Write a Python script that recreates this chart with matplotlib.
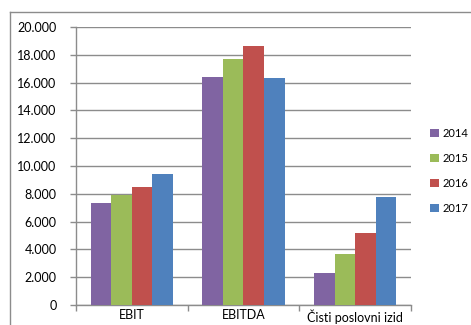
import matplotlib
matplotlib.use("Agg")
import matplotlib.pyplot as plt
from matplotlib.lines import Line2D
import numpy as np

categories = ["EBIT", "EBITDA", "Čisti poslovni izid"]
years = ["2014", "2015", "2016", "2017"]
v2014 = [7350, 16380, 2280]
v2015 = [7930, 17680, 3650]
v2016 = [8480, 18650, 5160]
v2017 = [9420, 16310, 7790]
colors = ["#8064A2", "#9BBB59", "#C0504D", "#4F81BD"]
yticks = [0, 2000, 4000, 6000, 8000, 10000, 12000, 14000, 16000, 18000, 20000]
ytick_labels = ["0", "2.000", "4.000", "6.000", "8.000", "10.000", "12.000",
                "14.000", "16.000", "18.000", "20.000"]

plt.rcParams['font.family'] = ['Lato', 'DejaVu Sans']

W, H = 471, 325
fig = plt.figure(figsize=(W / 100, H / 100), dpi=100)
ax = fig.add_axes([76 / W, 1 - 305 / H, (411 - 76) / W, (305 - 27) / H])

series = [v2014, v2015, v2016, v2017]
x = np.arange(len(categories))
bw = 0.184
for i, (vals, c, yr) in enumerate(zip(series, colors, years)):
    ax.bar(x + (i - 1.5) * bw, vals, bw, color=c, label=yr, zorder=3)

ax.set_xlim(-0.5, 2.5)
ax.set_ylim(0, 20000)
ax.set_yticks(yticks)
ax.set_yticklabels(ytick_labels, fontsize=9)
ax.set_xticks(x)
ax.set_xticklabels(categories, fontsize=9)
ax.tick_params(axis='x', length=0, pad=3)
ax.set_xticks([-0.5, 0.5, 1.5, 2.5], minor=True)
ax.tick_params(axis='x', which='minor', length=4, color='#8c8c8c', width=1)
ax.tick_params(axis='y', length=4, color='#8c8c8c', width=1, pad=10)
ax.grid(axis='y', color='#8c8c8c', linewidth=1, zorder=0)
for s in ['top', 'right']:
    ax.spines[s].set_visible(False)
ax.spines['left'].set_color('#8c8c8c')
ax.spines['bottom'].set_color('#8c8c8c')
ax.spines['left'].set_linewidth(1)
ax.spines['bottom'].set_linewidth(1)

handles, labels = ax.get_legend_handles_labels()
leg = fig.legend(handles, labels, loc='upper left', bbox_to_anchor=(430 / W, 1 - 128 / H),
                 frameon=False, fontsize=8, handlelength=0.8, handleheight=0.8,
                 handletextpad=0.3, labelspacing=1.25, borderpad=0, borderaxespad=0)

# outer frame (top and left)
fig.add_artist(Line2D([10 / W, 1.0], [1 - 12 / H, 1 - 12 / H], transform=fig.transFigure,
                      color='#8c8c8c', linewidth=1))
fig.add_artist(Line2D([10 / W, 10 / W], [0, 1 - 12 / H], transform=fig.transFigure,
                      color='#8c8c8c', linewidth=1))

fig.savefig("out.png", dpi=100)
